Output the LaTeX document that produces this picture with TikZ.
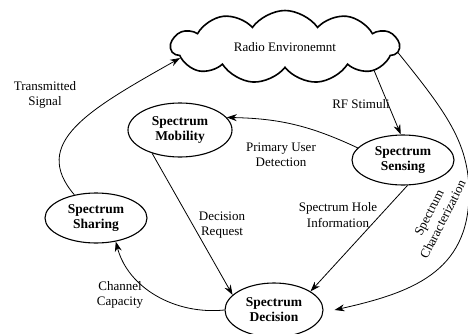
\documentclass[tikz,border=0pt]{standalone}
\usepackage{fontspec}
\setmainfont{Liberation Serif}
\usetikzlibrary{shapes.symbols,shapes.geometric,arrows.meta}
\begin{document}
\begin{tikzpicture}[x=1pt,y=1pt,
  state/.style={ellipse,draw,line width=1.1pt,inner sep=0pt,align=center,
    font=\fontsize{13.5}{15}\selectfont\bfseries},
  lbl/.style={align=center,font=\fontsize{13}{15.5}\selectfont,inner sep=0pt},
  conn/.style={line width=0.8pt,-{Stealth[length=10pt,width=7pt]}}]
\useasboundingbox (0,0) rectangle (468,333);
\node[cloud, draw, line width=1.6pt, cloud puffs=11, cloud puff arc=110,
  cloud ignores aspect, minimum width=228pt, minimum height=73pt, inner sep=0pt,
  font=\fontsize{13}{15.5}\selectfont] (env) at (285,286) {Radio Environemnt};
\node[state,minimum width=104pt,minimum height=54pt] (mob) at (180,203) {Spectrum\\Mobility};
\node[state,minimum width=102pt,minimum height=50pt] (sens) at (403,173) {Spectrum\\Sensing};
\node[state,minimum width=102pt,minimum height=50pt] (shar) at (96,115) {Spectrum\\Sharing};
\node[state,minimum width=98pt,minimum height=54pt] (dec) at (274,23) {Spectrum\\Decision};

\draw[conn] (env.-15) -- (sens.95);
\draw[conn] (sens.165) to[bend right=12] (mob.15);
\draw[conn] (mob.220) -- (dec.160);
\draw[conn] (sens.-80) -- (dec.27);
\draw[conn] (env.-3) .. controls (446,221) and (469,190) .. (469,140)
  .. controls (469,60) and (410,40) .. ([xshift=11pt]dec.east);
\draw[conn] (dec.west) .. controls (175,18) and (128,45) .. (shar.-50);
\draw[conn] (shar.133) .. controls (30,190) and (88,223) .. (env.186);

\node[lbl] (l1) at (361,229) {RF Stimuli};
\node[lbl] (l2) at (281,178) {Primary User\\Detection};
\node[lbl] (l3) at (222,108) {Decision\\Request};
\node[lbl] (l4) at (338,118) {Spectrum Hole\\Information};
\node[lbl,rotate=63] (l5) at (436,117) {Spectrum\\Characterization};
\node[lbl] (l6) at (120,38) {Channel\\Capacity};
\node[lbl] (l7) at (45,238) {Transmitted\\Signal};
\end{tikzpicture}
\end{document}
